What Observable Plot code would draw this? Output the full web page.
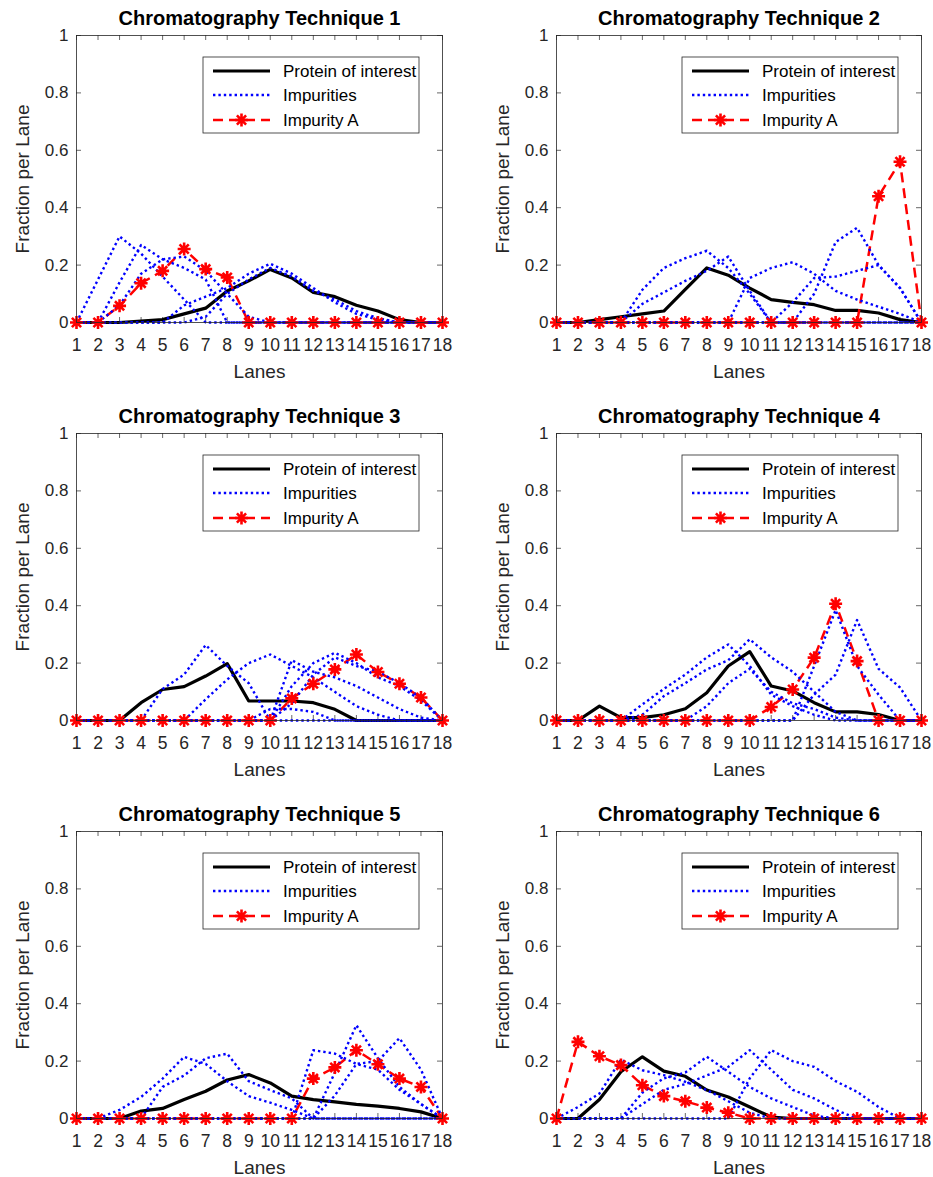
<!DOCTYPE html>
<html><head><meta charset="utf-8">
<script src="https://cdn.jsdelivr.net/npm/d3@7"></script>
<script src="https://cdn.jsdelivr.net/npm/@observablehq/plot@0.6"></script>
<style>
body{margin:0;background:#fff;font-family:"Liberation Sans",Arial,Helvetica,sans-serif;}
#wrap{position:relative;width:933px;height:1177px;overflow:hidden;background:#fff}
.panel{position:absolute}
</style></head>
<body><div id="wrap"></div>
<script>
const lanes = [1,2,3,4,5,6,7,8,9,10,11,12,13,14,15,16,17,18];
const yTicks = [0,0.2,0.4,0.6,0.8,1];
const titles = ["Chromatography Technique 1","Chromatography Technique 2","Chromatography Technique 3","Chromatography Technique 4","Chromatography Technique 5","Chromatography Technique 6"];
const legendLabels = ["Protein of interest","Impurities","Impurity A"];

// Technique 1
const protein1 = [0,0,0,0.005,0.01,0.03,0.05,0.11,0.145,0.185,0.155,0.105,0.09,0.06,0.04,0.01,0,0];
const impurityA1 = [0,0,0.058,0.137,0.18,0.256,0.186,0.157,0,0,0,0,0,0,0,0,0,0];
const impurities1 = [
  [0,0.15,0.30,0.24,0.16,0.08,0,0,0,0,0,0,0,0,0,0,0,0],
  [0,0,0.14,0.27,0.22,0.19,0.15,0,0,0,0,0,0,0,0,0,0,0],
  [0,0,0.06,0.17,0.22,0.23,0.18,0.10,0.02,0,0,0,0,0,0,0,0,0],
  [0,0,0,0,0,0.06,0.09,0.12,0.17,0.205,0.17,0.12,0.07,0.03,0.01,0,0,0],
  [0,0,0,0,0,0,0.02,0.10,0.15,0.19,0.16,0.11,0.08,0.04,0.015,0,0,0]
];
// Technique 2
const protein2 = [0,0,0.01,0.02,0.03,0.04,0.115,0.19,0.165,0.12,0.08,0.07,0.062,0.042,0.042,0.033,0.01,0];
const impurityA2 = [0,0,0,0,0,0,0,0,0,0,0,0,0,0,0,0.44,0.56,0];
const impurities2 = [
  [0,0,0,0,0.114,0.19,0.224,0.25,0.19,0.10,0,0,0,0,0,0,0,0],
  [0,0,0,0,0.065,0.105,0.145,0.18,0.23,0.11,0,0,0,0,0,0,0,0],
  [0,0,0,0,0,0,0,0,0,0.155,0.19,0.21,0.17,0.11,0.08,0.055,0.03,0],
  [0,0,0,0,0,0,0,0,0,0,0,0.07,0.155,0.16,0.18,0.20,0.12,0],
  [0,0,0,0,0,0,0,0,0,0,0,0,0.10,0.28,0.33,0.20,0.12,0]
];
// Technique 3
const protein3 = [0,0,0,0.062,0.108,0.118,0.155,0.198,0.068,0.068,0.068,0.062,0.039,0,0,0,0,0];
const impurityA3 = [0,0,0,0,0,0,0,0,0,0,0.077,0.128,0.178,0.23,0.169,0.128,0.08,0];
const impurities3 = [
  [0,0,0,0,0.11,0.16,0.263,0.19,0.13,0,0,0,0,0,0,0,0,0],
  [0,0,0,0,0,0,0.074,0.143,0.20,0.23,0.19,0.15,0.10,0.05,0.02,0,0,0],
  [0,0,0,0,0,0,0,0,0,0,0.21,0.17,0.15,0.12,0.08,0.04,0.01,0],
  [0,0,0,0,0,0,0,0,0,0,0.12,0.20,0.236,0.20,0.15,0.12,0.07,0],
  [0,0,0,0,0,0,0,0,0,0,0.06,0.16,0.22,0.19,0.17,0.13,0.08,0],
  [0,0,0,0,0,0,0,0,0,0.04,0.04,0.03,0,0,0,0,0,0]
];
// Technique 4
const protein4 = [0,0,0.05,0.01,0.01,0.02,0.041,0.097,0.19,0.24,0.12,0.103,0.062,0.03,0.03,0.021,0,0];
const impurityA4 = [0,0,0,0,0,0,0,0,0,0,0.047,0.108,0.219,0.407,0.207,0,0,0];
const impurities4 = [
  [0,0,0,0,0.056,0.11,0.16,0.22,0.265,0.19,0.09,0.05,0.02,0,0,0,0,0],
  [0,0,0,0,0.02,0.085,0.13,0.178,0.21,0.283,0.22,0.17,0.10,0.03,0,0,0,0],
  [0,0,0,0,0,0,0,0.05,0.13,0.18,0.10,0.06,0.04,0.01,0,0,0,0],
  [0,0,0,0,0,0,0,0,0,0,0,0,0.19,0.385,0.19,0.09,0,0],
  [0,0,0,0,0,0,0,0,0,0,0,0,0.09,0.16,0.35,0.18,0.115,0]
];
// Technique 5
const protein5 = [0,0,0,0.026,0.035,0.066,0.095,0.134,0.153,0.124,0.078,0.066,0.058,0.049,0.043,0.035,0.023,0];
const impurityA5 = [0,0,0,0,0,0,0,0,0,0,0,0.139,0.178,0.238,0.189,0.139,0.11,0];
const impurities5 = [
  [0,0,0.03,0.075,0.139,0.215,0.19,0.13,0.078,0.055,0.03,0,0,0,0,0,0,0],
  [0,0,0,0,0.11,0.15,0.21,0.226,0.13,0.099,0.07,0,0,0,0,0,0,0],
  [0,0,0,0,0,0,0,0,0,0,0,0.238,0.226,0.19,0.17,0.10,0.05,0],
  [0,0,0,0,0,0,0,0,0,0,0,0,0.16,0.325,0.21,0.11,0.05,0],
  [0,0,0,0,0,0,0,0,0,0,0,0,0.08,0.19,0.20,0.28,0.17,0]
];
// Technique 6
const protein6 = [0,0,0.066,0.163,0.215,0.165,0.147,0.099,0.075,0.04,0.005,0,0,0,0,0,0,0];
const impurityA6 = [0,0.267,0.217,0.186,0.116,0.078,0.06,0.038,0.02,0,0,0,0,0,0,0,0,0];
const impurities6 = [
  [0,0.04,0.087,0.205,0.168,0.151,0.128,0.099,0.06,0.02,0,0,0,0,0,0,0,0],
  [0,0,0,0,0.09,0.14,0.16,0.215,0.163,0.11,0.07,0.04,0.01,0,0,0,0,0],
  [0,0,0,0,0.05,0.10,0.12,0.15,0.18,0.238,0.17,0.10,0.07,0.03,0,0,0,0],
  [0,0,0,0,0,0,0,0,0,0.14,0.238,0.20,0.18,0.13,0.093,0.04,0,0]
];

const panels = [
  {protein:protein1, impA:impurityA1, imps:impurities1},
  {protein:protein2, impA:impurityA2, imps:impurities2},
  {protein:protein3, impA:impurityA3, imps:impurities3},
  {protein:protein4, impA:impurityA4, imps:impurities4},
  {protein:protein5, impA:impurityA5, imps:impurities5},
  {protein:protein6, impA:impurityA6, imps:impurities6}
];

const INK = "#262626";
const FONT = "'Liberation Sans', Arial, Helvetica, sans-serif";
const star = {draw(ctx, size){ const r = Math.sqrt(size/Math.PI);
  for (let k=0;k<4;k++){ const a=k*Math.PI/4, c=r*Math.cos(a), s=r*Math.sin(a); ctx.moveTo(c,s); ctx.lineTo(-c,-s);} }};

const wrap = document.getElementById("wrap");
const lefts = [0,466], tops = [0,398,796], heights = [398,398,381];
const mLeft = [76,90], mRight = [24,11];
const BLUE_DASH = "2.4 3", RED_DASH = "10 6";

panels.forEach((p,k)=>{
  const col = k%2, row = Math.floor(k/2);
  const W = 466, H = heights[row], ML = mLeft[col], MR = mRight[col], MT = 35, MB = H - 35 - 287;
  const fw = W-ML-MR, fh = 287;
  const pData = lanes.map((l,i)=>({lane:l, v:p.protein[i]}));
  const aData = lanes.map((l,i)=>({lane:l, v:p.impA[i]}));
  const iData = p.imps.flatMap((s,j)=>lanes.map((l,i)=>({lane:l, v:s[i], s:j})));
  const tx = 5/fw*17, ty = 5/fh;
  const plot = Plot.plot({
    width:W, height:H, marginLeft:ML, marginRight:MR, marginTop:MT, marginBottom:MB,
    style:{fontFamily:FONT, color:INK, background:"white", overflow:"visible"},
    x:{domain:[1,18]}, y:{domain:[0,1]},
    marks:[
      Plot.axisX({ticks:lanes, tickSize:0, tickPadding:16, fontSize:17.5, label:null, tickFormat:d=>String(d), fill:INK}),
      Plot.axisY({ticks:yTicks, tickSize:0, tickPadding:8, fontSize:17, label:null, tickFormat:d=>String(+d.toFixed(1)), fill:INK}),
      Plot.ruleX(lanes,{x:d=>d, y1:0, y2:ty, stroke:INK, strokeWidth:0.7}),
      Plot.ruleX(lanes,{x:d=>d, y1:1-ty, y2:1, stroke:INK, strokeWidth:0.7}),
      Plot.ruleY(yTicks,{y:d=>d, x1:1, x2:1+tx, stroke:INK, strokeWidth:0.7}),
      Plot.ruleY(yTicks,{y:d=>d, x1:18-tx, x2:18, stroke:INK, strokeWidth:0.7}),
      Plot.line(pData,{x:"lane", y:"v", stroke:"#000", strokeWidth:3.2}),
      Plot.line(aData,{x:"lane", y:"v", stroke:"#ff0000", strokeWidth:2.5, strokeDasharray:RED_DASH, strokeLinecap:"butt"}),
      Plot.line(iData,{x:"lane", y:"v", z:"s", stroke:"#0000ff", strokeWidth:2.4, strokeDasharray:BLUE_DASH, strokeLinecap:"butt"}),
      Plot.dot(aData,{x:"lane", y:"v", symbol:star, r:6.5, stroke:"#ff0000", strokeWidth:2.6, fill:"none"}),
      Plot.frame({stroke:INK, strokeWidth:0.8}),
      Plot.text([titles[k]],{frameAnchor:"top", dy:-17, lineAnchor:"middle", textAnchor:"middle", fontSize:20, fontWeight:"bold", fill:"#000"}),
      Plot.text(["Lanes"],{frameAnchor:"bottom", dy:49, lineAnchor:"middle", textAnchor:"middle", fontSize:19, fill:INK}),
      Plot.text(["Fraction per Lane"],{frameAnchor:"left", dx:-54, rotate:-90, lineAnchor:"middle", textAnchor:"middle", fontSize:19, fill:INK})
    ]
  });
  // legend box (decoration)
  const svg = d3.select(plot);
  const bx = ML + fw - 239, by = MT + 22, bw = 216, bh = 76;
  const g = svg.append("g").attr("font-family", FONT).attr("font-size", 17).attr("text-anchor","start");
  g.append("rect").attr("x",bx).attr("y",by).attr("width",bw).attr("height",bh).attr("fill","#fff").attr("stroke",INK).attr("stroke-width",0.8);
  const rowsY = [by+14, by+38, by+63];
  const x1 = bx+10, x2 = bx+67;
  g.append("line").attr("x1",x1).attr("x2",x2).attr("y1",rowsY[0]).attr("y2",rowsY[0]).attr("stroke","#000").attr("stroke-width",3.2);
  g.append("line").attr("x1",x1).attr("x2",x2).attr("y1",rowsY[1]).attr("y2",rowsY[1]).attr("stroke","#0000ff").attr("stroke-width",2.4).attr("stroke-dasharray",BLUE_DASH);
  g.append("line").attr("x1",x1).attr("x2",x2).attr("y1",rowsY[2]).attr("y2",rowsY[2]).attr("stroke","#ff0000").attr("stroke-width",2.5).attr("stroke-dasharray",RED_DASH);
  g.append("path").attr("d", d3.symbol(star, Math.PI*6.5*6.5)()).attr("transform",`translate(${(x1+x2)/2},${rowsY[2]})`).attr("stroke","#ff0000").attr("stroke-width",2.6).attr("fill","none");
  legendLabels.forEach((t,i)=>g.append("text").attr("x",bx+80).attr("y",rowsY[i]).attr("dy","0.35em").attr("fill","#000").attr("text-anchor","start").text(t));
  const div = document.createElement("div");
  div.className = "panel";
  div.style.left = lefts[col]+"px"; div.style.top = tops[row]+"px";
  div.appendChild(plot);
  wrap.appendChild(div);
});
</script>
</body></html>
